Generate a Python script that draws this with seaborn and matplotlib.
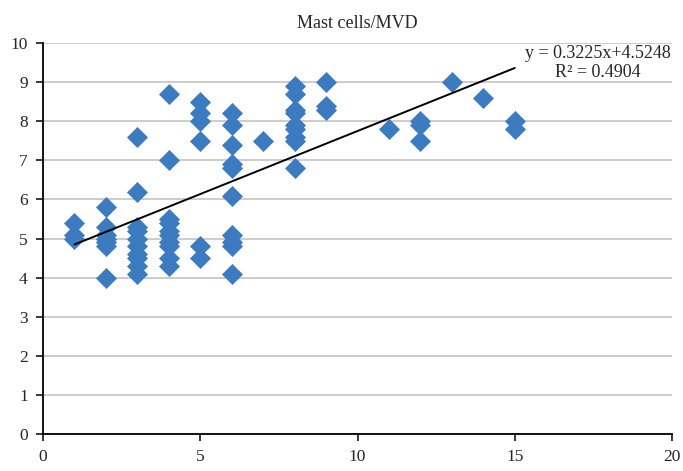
import numpy as np
import pandas as pd
import matplotlib
matplotlib.use('Agg')
import matplotlib.pyplot as plt
import seaborn as sns

# Values (mast cells vs MVD)
mast_cells = [1, 1, 1,
              2, 2, 2, 2, 2, 2, 2,
              3, 3, 3, 3, 3, 3, 3, 3, 3, 3,
              4, 4, 4, 4, 4, 4, 4, 4, 4, 4,
              5, 5, 5, 5, 5, 5,
              6, 6, 6, 6, 6, 6, 6, 6, 6, 6,
              7,
              8, 8, 8, 8, 8, 8, 8, 8, 8,
              9, 9, 9,
              11,
              12, 12, 12,
              13,
              14,
              15, 15]
mvd = [5.4, 5.1, 5.0,
       5.8, 5.3, 5.1, 5.0, 4.9, 4.8, 4.0,
       7.6, 6.2, 5.3, 5.2, 5.0, 4.8, 4.6, 4.5, 4.3, 4.1,
       8.7, 7.0, 5.5, 5.4, 5.2, 5.1, 4.9, 4.8, 4.5, 4.3,
       8.5, 8.2, 8.0, 7.5, 4.8, 4.5,
       8.2, 7.9, 7.4, 6.9, 6.8, 6.1, 5.1, 4.9, 4.8, 4.1,
       7.5,
       8.9, 8.7, 8.3, 8.2, 7.9, 7.8, 7.6, 7.5, 6.8,
       9.0, 8.4, 8.3,
       7.8,
       8.0, 7.9, 7.5,
       9.0,
       8.6,
       8.0, 7.8]

# trendline as printed on the chart
slope = 0.3225
intercept = 4.5248
r_squared = 0.4904

df = pd.DataFrame({'mast': mast_cells, 'mvd': mvd})

sns.set_style('ticks')
plt.rcParams['font.family'] = ['Liberation Serif', 'DejaVu Serif']

fig = plt.figure(figsize=(6.83, 4.71), dpi=100)
ax = fig.add_axes([0.063, 0.0786, 0.921, 0.830])

# horizontal gridlines
ax.set_axisbelow(True)
ax.yaxis.grid(True, color='#BFBFBF', linewidth=1.1)

sns.scatterplot(x='mast', y='mvd', data=df, marker='D', s=115,
                color='#3C7BC0', linewidth=0, ax=ax, zorder=3)

# linear trendline over the data range
xs = np.array([df['mast'].min(), df['mast'].max()])
ax.plot(xs, slope * xs + intercept, color='black', linewidth=1.4, zorder=4)

ax.text(17.65, 9.49, f'y = {slope}x+{intercept}\nR² = {r_squared}',
        ha='center', va='center', multialignment='center',
        fontsize=13, linespacing=1.15, zorder=5)

ax.set_xlim(0, 20)
ax.set_ylim(0, 10)
ax.set_xticks([0, 5, 10, 15, 20])
ax.set_yticks(range(0, 11))
ax.set_xlabel('')
ax.set_ylabel('')
ax.set_title('Mast cells/MVD', fontsize=13, pad=11)

for side in ['top', 'right']:
    ax.spines[side].set_visible(False)
for side in ['left', 'bottom']:
    ax.spines[side].set_color('black')
    ax.spines[side].set_linewidth(1.3)
ax.tick_params(axis='both', direction='out', length=5, width=1.1,
               color='black', labelsize=12.5, pad=6)

fig.savefig('out.png', dpi=100)
